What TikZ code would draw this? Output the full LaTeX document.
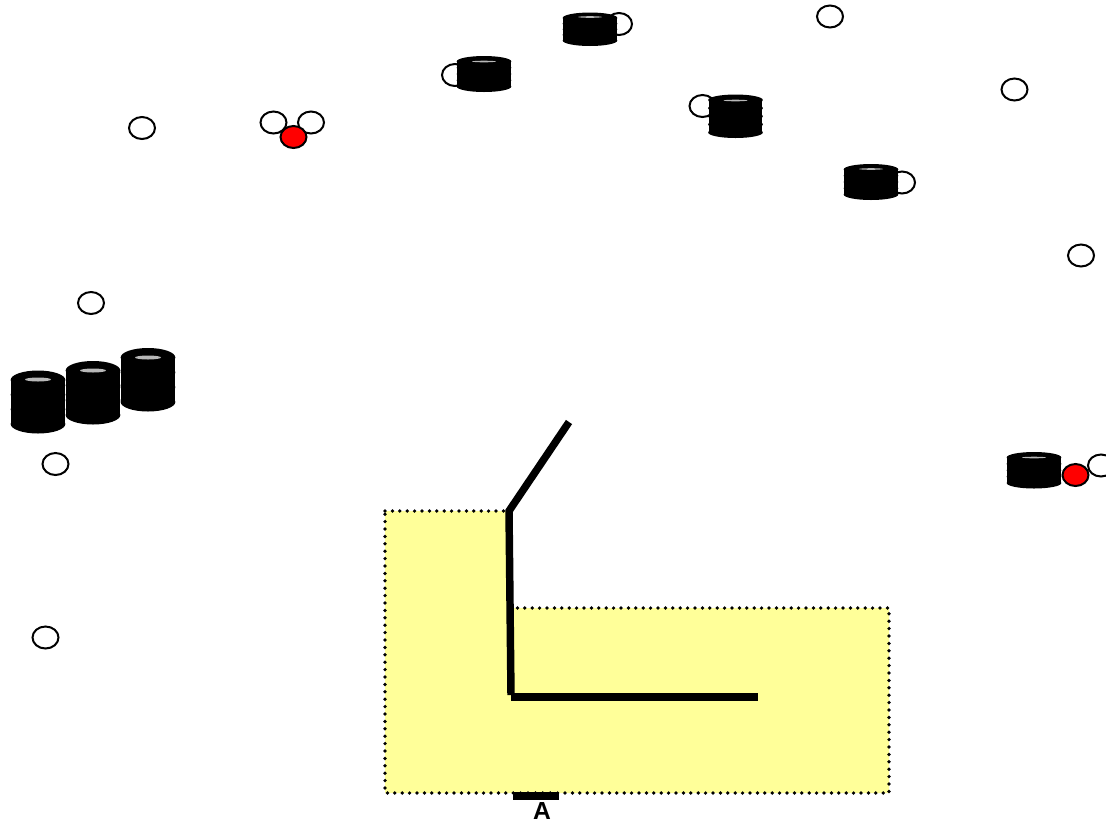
\documentclass[tikz,border=0pt]{standalone}
\usepackage{fontspec}
\setsansfont{Liberation Sans}
\usetikzlibrary{shapes.geometric}
\definecolor{paleyellow}{HTML}{FFFF99}
\definecolor{drumglint}{HTML}{B8B8B8}
\tikzset{
  x=0.75pt,y=-0.75pt,
  oval/.style={ellipse,draw=black,line width=1.5pt,fill=white,minimum width=19.5pt,minimum height=16.5pt,inner sep=0pt,outer sep=0pt},
  redoval/.style={oval,fill=red},
  zone/.style={fill=paleyellow,draw=black,line width=2.8pt,line cap=round,dash pattern=on 0pt off 5.55pt},
  wall/.style={draw=black,line width=5.6pt},
  label/.style={font=\sffamily\bfseries,inner sep=0pt}
}
% \drum{cx}{top}{bottom}{ry}{glint rx}{glint ry}{glint y}{tiers}
\newcommand{\drum}[8]{%
  \fill[black] (#1-26.9,#2+#4) rectangle (#1+26.9,#3-#4);
  \foreach \t in {0,...,#8}{%
    \pgfmathsetmacro{\ty}{#2+#4+(#3-#2-2*#4)*\t/#8}
    \fill[black] (#1,\ty) ellipse[x radius=20.5pt,y radius=#4*0.75pt];
  }%
  \fill[drumglint] (#1,#7) ellipse[x radius=#5*0.75pt,y radius=#6*0.75pt];
}
\begin{document}
\begin{tikzpicture}
\useasboundingbox (0,0) rectangle (1106,822);
\clip (0,0) rectangle (1106,822);
% plain ovals
\node[oval] (o1) at (830,16.5) {};
\node[oval] (o2) at (1014.5,89.5) {};
\node[oval] (o3) at (142,128) {};
\node[oval] (o4) at (1081,255.5) {};
\node[oval] (o5) at (91,303) {};
\node[oval] (o6) at (55.5,464) {};
\node[oval] (o7) at (45.5,637.5) {};
% ovals behind drums
\node[oval] (h1) at (619,24) {};
\node[oval] (h2) at (455,75) {};
\node[oval] (h3) at (702.5,106) {};
\node[oval] (h4) at (902,182.5) {};
\node[oval] (h5) at (1101,465.5) {};
% oval pair with red
\node[oval] (p1) at (273.5,122.5) {};
\node[oval] (p2) at (311,122.5) {};
\node[redoval] (r1) at (293.5,137) {};
\node[redoval] (r2) at (1075.5,475) {};
% drums
\drum{38}{370.5}{433.5}{9.5}{13}{2}{379.5}{3}
\drum{93}{361}{424.5}{9.5}{13}{2}{370.5}{3}
\drum{148}{348}{411.5}{9.5}{13}{2}{357.5}{3}
\drum{590}{12.5}{46}{5.5}{12}{0.8}{17}{4}
\drum{484}{56}{92}{5.5}{12}{0.8}{61.5}{4}
\drum{735.5}{94.5}{138}{5.5}{12}{0.8}{100.5}{4}
\drum{871}{164}{200}{5.5}{12}{0.8}{169}{4}
\drum{1034}{452}{488.5}{5.5}{12}{0.8}{457.5}{4}
% yellow zone
\coordinate (z1) at (385,511);
\coordinate (z2) at (509,511);
\coordinate (z3) at (509,608);
\coordinate (z4) at (889,608);
\coordinate (z5) at (889,793);
\coordinate (z6) at (385,793);
\path[zone] (z1) -- (z2) -- (z3) -- (z4) -- (z5) -- (z6) -- cycle;
% walls
\coordinate (w1) at (569,422);
\coordinate (w2) at (509,511);
\coordinate (w3) at (511,695);
\coordinate (w4) at (511,697);
\coordinate (w5) at (758,697);
\draw[wall] (w1) -- (w2) -- (w3);
\draw[wall] (w4) -- (w5);
\coordinate (b1) at (513,795.8);
\coordinate (b2) at (559,795.8);
\draw[wall] (b1) -- (b2);
\node[label,font=\sffamily\bfseries\fontsize{18.5}{20}\selectfont,anchor=base] (lblA) at (542,819) {A};
\end{tikzpicture}
\end{document}
